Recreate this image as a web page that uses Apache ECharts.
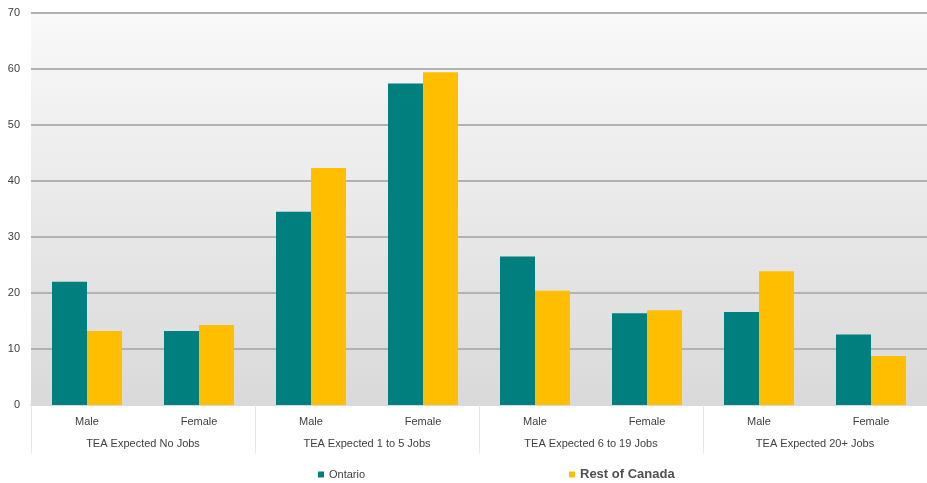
<!DOCTYPE html>
<html>
<head>
<meta charset="utf-8">
<script src="https://cdn.jsdelivr.net/npm/echarts@6/dist/echarts.min.js"></script>
<style>html,body{margin:0;padding:0;background:#fff}#c{width:927px;height:483px}</style>
</head>
<body>
<div id="c"></div>
<script>
const categories = ['Male','Female','Male','Female','Male','Female','Male','Female'];
const groups = ['TEA Expected No Jobs','TEA Expected 1 to 5 Jobs','TEA Expected 6 to 19 Jobs','TEA Expected 20+ Jobs'];
const ontario = [22.0, 13.2, 34.5, 57.4, 26.5, 16.4, 16.6, 12.6];
const restOfCanada = [13.2, 14.3, 42.3, 59.4, 20.4, 16.9, 23.9, 8.75];
const yTicks = [0, 10, 20, 30, 40, 50, 60, 70];

const chart = echarts.init(document.getElementById('c'), null, {renderer: 'canvas'});
const font = 'Liberation Sans, Arial, sans-serif';
chart.setOption({
  animation: false,
  textStyle: {fontFamily: font},
  grid: {
    left: 31, right: 0, top: 13, bottom: 78,
    show: true, borderWidth: 0,
    backgroundColor: {type: 'linear', x: 0, y: 0, x2: 0, y2: 1,
      colorStops: [{offset: 0, color: '#f9f9f9'}, {offset: 1, color: '#d9d9d9'}]}
  },
  legend: [
    {data: [{name: 'Ontario', textStyle: {fontSize: 11, color: '#404040'}}],
     left: 313, top: 464, icon: 'rect', itemWidth: 6, itemHeight: 6, itemGap: 4},
    {data: [{name: 'Rest of Canada', textStyle: {fontSize: 13, fontWeight: 'bold', color: '#505050'}}],
     left: 564, top: 463, icon: 'rect', itemWidth: 6, itemHeight: 6, itemGap: 4}
  ],
  xAxis: [
    {type: 'category', data: categories, position: 'bottom',
     axisLine: {show: true, lineStyle: {color: '#d9d9d9', width: 2}},
     axisTick: {show: false},
     axisLabel: {fontSize: 11, color: '#404040', margin: 11, interval: 0}},
    {type: 'category', data: groups, position: 'bottom',
     axisLine: {show: false},
     axisTick: {show: true, length: 48, interval: 0, lineStyle: {color: '#e6e6e6'}},
     axisLabel: {fontSize: 11, color: '#404040', margin: 33, interval: 0}}
  ],
  yAxis: {
    type: 'value', min: yTicks[0], max: yTicks[yTicks.length - 1], interval: 10,
    axisLine: {show: false}, axisTick: {show: false},
    axisLabel: {fontSize: 11, color: '#404040', margin: 11},
    splitLine: {lineStyle: {color: '#b2b2b2', width: 2}}
  },
  series: [
    {name: 'Ontario', type: 'bar', data: ontario, xAxisIndex: 0,
     itemStyle: {color: '#007f7f'}, barGap: '0%', barCategoryGap: '37.5%'},
    {name: 'Rest of Canada', type: 'bar', data: restOfCanada, xAxisIndex: 0,
     itemStyle: {color: '#ffbf00'}, barGap: '0%', barCategoryGap: '37.5%'}
  ]
});
</script>
</body>
</html>
